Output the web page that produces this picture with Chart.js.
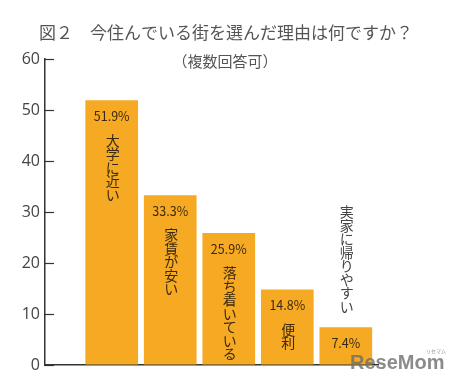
<!DOCTYPE html>
<html lang="ja">
<head>
    <meta charset="UTF-8">
    <title>今住んでいる街を選んだ理由</title>
    <script src="https://cdn.jsdelivr.net/npm/chart.js"></script>
    <style>
        body { margin: 0; background: #fff; }
        #wrap { width: 456px; height: 385px; }
    </style>
</head>
<body>
    <div id="wrap"><canvas id="myChart"></canvas></div>

    <script>
        // data
        const titleText = "図２　今住んでいる街を選んだ理由は何ですか？";
        const subtitleText = "（複数回答可）";
        const reasons = ["大学に近い", "家賃が安い", "落ち着いている", "便利", "実家に帰りやすい"];
        const percents = [51.9, 33.3, 25.9, 14.8, 7.4];
        const yTicks = [0, 10, 20, 30, 40, 50, 60];

        const JP = "'Noto Sans CJK JP', 'Noto Sans', sans-serif";

        // tick marks pointing into the plot (chart.js only draws them outward)
        const innerTicks = {
            id: 'innerTicks',
            afterDraw(chart) {
                const ctx = chart.ctx;
                const y = chart.scales.y;
                ctx.save();
                ctx.strokeStyle = '#333';
                ctx.lineWidth = 1.2;
                y.ticks.forEach(t => {
                    const py = Math.round(y.getPixelForValue(t.value)) + 0.5;
                    ctx.beginPath();
                    ctx.moveTo(chart.chartArea.left, py);
                    ctx.lineTo(chart.chartArea.left + 9, py);
                    ctx.stroke();
                });
                ctx.restore();
            }
        };

        // title, value labels, vertical category labels, watermark
        const labelPlugin = {
            id: 'labels',
            afterDatasetsDraw(chart) {
                const ctx = chart.ctx;
                ctx.save();
                ctx.textAlign = 'center';
                ctx.textBaseline = 'middle';

                ctx.fillStyle = '#555';
                ctx.font = "17px " + JP;
                ctx.fillText(titleText, 226, 33);
                ctx.font = "15px " + JP;
                ctx.fillText(subtitleText, 225, 61);

                const bottom = chart.scales.y.getPixelForValue(0);
                const step = 13.5;
                chart.getDatasetMeta(0).data.forEach((bar, i) => {
                    ctx.fillStyle = '#3a2a10';
                    ctx.font = "12.5px " + JP;
                    ctx.fillText(percents[i].toFixed(1) + '%', bar.x, bar.y + 16);

                    const chars = Array.from(reasons[i]);
                    let y0 = bar.y + 40;
                    if (y0 + (chars.length - 1) * step + 7 > bottom) {
                        // does not fit inside: put it above the bar
                        y0 = bar.y - 14 - chars.length * step + step / 2;
                        ctx.fillStyle = '#444';
                    }
                    ctx.font = "14px " + JP;
                    chars.forEach((c, k) => ctx.fillText(c, bar.x + 1, y0 + k * step));
                });

                // watermark
                ctx.globalAlpha = 0.8;
                ctx.fillStyle = '#6e6e6e';
                ctx.font = "bold 20px 'Liberation Sans', Arial, sans-serif";
                ctx.textAlign = 'left';
                ctx.fillText('ReseMom', 350, 363);
                ctx.font = "5px " + JP;
                ctx.fillText('リセマム', 426, 351);
                ctx.restore();
            }
        };

        const ctx = document.getElementById('myChart').getContext('2d');
        const myChart = new Chart(ctx, {
            type: 'bar',
            data: {
                datasets: [{
                    data: percents.map((v, i) => ({ x: i, y: v })),
                    backgroundColor: '#F6A922',
                    borderWidth: 0,
                    barPercentage: 0.9,
                    categoryPercentage: 1.0
                }]
            },
            options: {
                responsive: true,
                maintainAspectRatio: false,
                animation: false,
                layout: { padding: { top: 59, right: 78, bottom: 20, left: 0 } },
                plugins: {
                    legend: { display: false },
                    tooltip: { enabled: false }
                },
                scales: {
                    x: {
                        type: 'linear',
                        offset: false,
                        min: -1.14,
                        max: 4.55,
                        ticks: { display: false },
                        grid: { display: false, offset: false },
                        border: { display: true, color: '#333', width: 1.5 },
                        afterFit(scale) { scale.height = 0; }
                    },
                    y: {
                        min: 0,
                        max: 60,
                        afterBuildTicks(scale) { scale.ticks = yTicks.map(v => ({ value: v })); },
                        ticks: {
                            color: '#444',
                            padding: 5,
                            font: { family: "'Open Sans', sans-serif", size: 16 }
                        },
                        grid: { display: true, drawOnChartArea: false, drawTicks: false },
                        border: { display: true, color: '#333', width: 1.5 },
                        afterFit(scale) { scale.width = 45; }
                    }
                }
            },
            plugins: [labelPlugin, innerTicks]
        });
    </script>
</body>
</html>
